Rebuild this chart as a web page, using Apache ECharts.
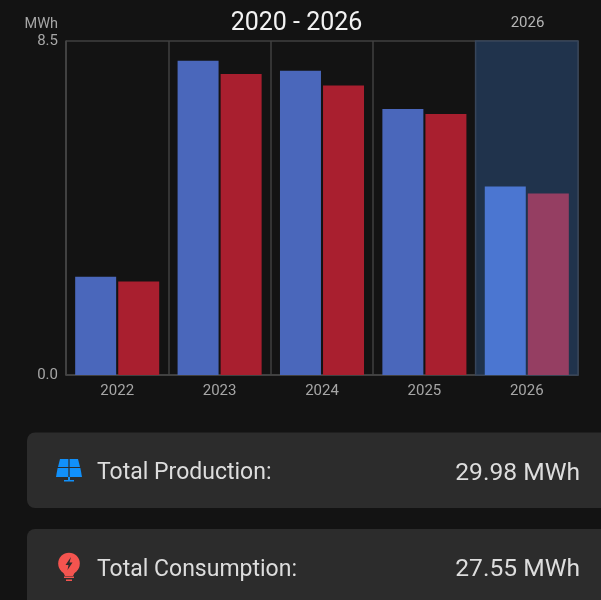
<!DOCTYPE html>
<html><head><meta charset="utf-8">
<style>html,body{margin:0;padding:0;background:#131313}#c{width:601px;height:600px}</style>
<script src="https://cdn.jsdelivr.net/npm/echarts@6/dist/echarts.min.js"></script>
</head><body><div id="c"></div>
<script>
const years = ['2022','2023','2024','2025','2026'];
const production = [2.50,8.00,7.74,6.77,4.80];
const consumption = [2.38,7.66,7.37,6.64,4.62];
const yTicks = [0, 8.5];
const unit = 'MWh';
const titleText = '2020 - 2026';
const currentYear = '2026';
const totals = [
  {label:'Total Production:', value:'29.98 MWh'},
  {label:'Total Consumption:', value:'27.55 MWh'}
];
const font = 'Roboto';
const chart = echarts.init(document.getElementById('c'), null, {renderer:'canvas'});
function card(y, h, t, iconChildren){
  return [
    {type:'rect', shape:{x:27,y:y,width:600,height:h,r:8}, style:{fill:'#2c2c2c'}, z:0},
    {type:'text', style:{x:97,y:y+41,text:t.label,font:'23px '+font,fill:'#dddddd',textAlign:'left',textVerticalAlign:'middle'}, z:2},
    {type:'text', style:{x:580,y:y+41,text:t.value,font:'24.6px '+font,fill:'#dddddd',textAlign:'right',textVerticalAlign:'middle'}, z:2}
  ].concat(iconChildren);
}
const solarIcon = [
  {type:'polygon', shape:{points:[[60,459],[68.4,459],[68.4,467],[58,467]]}, style:{fill:'#1190fa'}, z:2},
  {type:'polygon', shape:{points:[[69.6,459],[78,459],[80,467],[69.6,467]]}, style:{fill:'#1190fa'}, z:2},
  {type:'polygon', shape:{points:[[57.6,468],[68.4,468],[68.4,477],[56,477]]}, style:{fill:'#1190fa'}, z:2},
  {type:'polygon', shape:{points:[[69.6,468],[80.4,468],[82,477],[69.6,477]]}, style:{fill:'#1190fa'}, z:2},
  {type:'rect', shape:{x:68,y:477,width:2,height:3}, style:{fill:'#1190fa'}, z:2},
  {type:'rect', shape:{x:64,y:480,width:10,height:1.5}, style:{fill:'#1190fa'}, z:2}
];
const bulbIcon = [
  {type:'circle', shape:{cx:69,cy:563.5,r:10.8}, style:{fill:'#f4544f'}, z:2},
  {type:'polygon', shape:{points:[[62,570],[76,570],[73,576],[65,576]]}, style:{fill:'#f4544f'}, z:2},
  {type:'rect', shape:{x:64,y:576.5,width:10,height:1.5}, style:{fill:'#f4544f'}, z:2},
  {type:'rect', shape:{x:66,y:579.5,width:6,height:1.5}, style:{fill:'#f4544f'}, z:2},
  {type:'polygon', shape:{points:[[71,557],[65.5,565],[68.5,565],[67.5,570],[72.5,562.5],[69.5,562.5]]}, style:{fill:'#2c2c2c'}, z:3}
];
function barData(arr, normal, current){
  return arr.map((v,i)=>({value:v,itemStyle:{color: years[i]===currentYear?current:normal}}));
}
chart.setOption({
  animation:false,
  backgroundColor:'#131313',
  textStyle:{fontFamily:font},
  title:{text:titleText,left:291.5,textAlign:'center',top:6,textStyle:{color:'#f2f2f2',fontSize:25,fontWeight:'normal',fontFamily:font}},
  grid:{left:66,right:23,top:41,bottom:225,show:false},
  xAxis:{type:'category',data:years,
    axisLine:{show:true,lineStyle:{color:'#464646',width:1.5}},
    axisTick:{show:false},
    axisLabel:{color:'#a6a6a6',fontSize:15,margin:9,fontFamily:font},
    splitLine:{show:true,interval:0,lineStyle:{color:'#404040',width:1.5}}},
  yAxis:{type:'value',min:yTicks[0],max:yTicks[1],interval:yTicks[1],
    name:unit,nameLocation:'end',nameGap:9,
    nameTextStyle:{color:'#a6a6a6',fontSize:14.5,align:'right',padding:[0,8,0,0],fontFamily:font},
    axisLine:{show:true,lineStyle:{color:'#464646',width:1.5}},
    axisTick:{show:false},
    axisLabel:{color:'#a6a6a6',fontSize:15,margin:8,padding:[2,0,0,0],fontFamily:font,formatter:v=>v.toFixed(1)},
    splitLine:{show:true,lineStyle:{color:'#404040',width:1.5}}},
  series:[
    {name:'Production',type:'bar',data:barData(production,'#4a67bb','#4b76d1'),barWidth:41,barGap:'5%',
     z:3,
     markArea:{silent:true,z:1,itemStyle:{color:'#20334c',borderColor:'#37455a',borderWidth:1.5},
       data:[[{xAxis:currentYear,y:41},{xAxis:currentYear,y:375}]]}},
    {name:'Consumption',type:'bar',data:barData(consumption,'#a91f2f','#953e62'),barWidth:41,z:3}
  ],
  graphic:{elements:[
    {type:'text',style:{x:527.5,y:23,text:currentYear,font:'15px '+font,fill:'#b5b5b5',textAlign:'center',textVerticalAlign:'middle'}},
    ...card(432.5,75.5,totals[0],solarIcon),
    ...card(529,100,totals[1],bulbIcon)
  ]}
});
</script></body></html>
